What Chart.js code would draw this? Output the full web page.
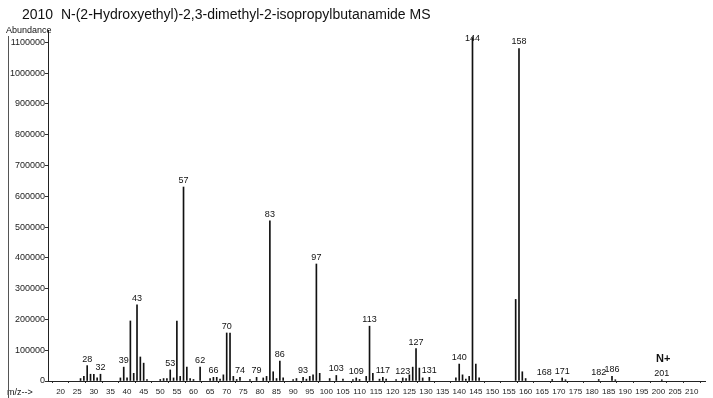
<!DOCTYPE html>
<html>
<head>
<meta charset="utf-8">
<script src="https://cdn.jsdelivr.net/npm/chart.js@4"></script>
<style>
  html, body { margin: 0; padding: 0; background: #fff; }
</style>
</head>
<body>
<canvas id="ms" width="713" height="398"></canvas>
<script>
// spectrum
const titleText = "2010  N-(2-Hydroxyethyl)-2,3-dimethyl-2-isopropylbutanamide MS";

const mzValues = [26, 27, 28, 29, 30, 31, 32, 38, 39, 40, 41, 42, 43, 44, 45, 46,
  50, 51, 52, 53, 54, 55, 56, 57, 58, 59, 60, 62, 65, 66, 67, 68, 69, 70, 71, 72,
  73, 74, 77, 79, 81, 82, 83, 84, 85, 86, 87, 90, 91, 93, 94, 95, 96, 97, 98,
  101, 103, 105, 108, 109, 110, 112, 113, 114, 116, 117, 118, 121, 123, 124,
  125, 126, 127, 128, 129, 131, 139, 140, 141, 142, 143, 144, 145, 146, 157,
  158, 159, 160, 168, 171, 172, 182, 186, 187, 201];

const abundances = [8000, 15000, 50000, 22000, 22000, 10000, 22000, 10000, 45000,
  10000, 195000, 25000, 247000, 78000, 58000, 5000,
  5000, 8000, 8000, 36000, 10000, 195000, 15000, 630000, 45000, 8000, 5000,
  45000, 8000, 12000, 12000, 6000, 20000, 156000, 156000, 15000,
  5000, 12000, 5000, 12000, 10000, 15000, 520000, 30000, 8000, 65000, 10000,
  5000, 8000, 12000, 6000, 15000, 20000, 380000, 25000,
  8000, 18000, 6000, 5000, 10000, 5000, 15000, 178000, 25000, 6000, 12000,
  6000, 5000, 10000, 8000,
  20000, 45000, 105000, 42000, 10000, 12000, 10000, 55000, 20000, 6000, 15000,
  1115000, 55000, 10000, 265000,
  1080000, 30000, 8000, 5000, 10000, 4000, 5000, 15000, 4000, 4000];

const labeledPeaks = [28, 32, 39, 43, 53, 57, 62, 66, 70, 74, 79, 83, 86, 93, 97,
  103, 109, 113, 117, 123, 127, 131, 140, 144, 158, 168, 171, 182, 186, 201];

const yTicks = [0, 100000, 200000, 300000, 400000, 500000, 600000, 700000,
  800000, 900000, 1000000, 1100000];

const xTicks = [20, 25, 30, 35, 40, 45, 50, 55, 60, 65, 70, 75, 80, 85, 90, 95,
  100, 105, 110, 115, 120, 125, 130, 135, 140, 145, 150, 155, 160, 165, 170,
  175, 180, 185, 190, 195, 200, 205, 210];

const fontName = "'Liberation Sans', Arial, sans-serif";

const extraText = {
  id: "extraText",
  afterDraw(chart) {
    const { ctx, scales: { x, y } } = chart;
    ctx.save();
    ctx.fillStyle = "#111";

    // title
    ctx.font = "14px " + fontName;
    ctx.textAlign = "left";
    ctx.textBaseline = "alphabetic";
    ctx.fillText(titleText, 22, 19);

    ctx.font = "9px " + fontName;
    ctx.fillText("Abundance", 6, 33);
    ctx.fillText("m/z-->", 7, 395);

    ctx.font = "bold 11px " + fontName;
    ctx.fillText("N+", 656, 362);

    // left frame line of the scan
    ctx.strokeStyle = "#555";
    ctx.lineWidth = 1;
    ctx.beginPath();
    ctx.moveTo(8.5, 36);
    ctx.lineTo(8.5, 398);
    ctx.stroke();

    // peak labels (168 nudged left so it does not run into 171)
    ctx.font = "9px " + fontName;
    ctx.textAlign = "center";
    ctx.textBaseline = "bottom";
    labeledPeaks.forEach(m => {
      const i = mzValues.indexOf(m);
      const px = x.getPixelForValue(m) - (m === 168 ? 8 : 0);
      const py = Math.max(y.getPixelForValue(abundances[i]) - 2, 43);
      ctx.fillText(String(m), px, py);
    });
    ctx.restore();
  }
};

const ctx = document.getElementById("ms").getContext("2d");

new Chart(ctx, {
  type: "bar",
  data: {
    datasets: [{
      data: mzValues.map((m, i) => ({ x: m, y: abundances[i] })),
      backgroundColor: "#111",
      barThickness: 1,
      borderWidth: 0
    }]
  },
  options: {
    responsive: false,
    animation: false,
    layout: { padding: { top: 30, right: 8, left: 0, bottom: 0 } },
    plugins: {
      legend: { display: false },
      tooltip: { enabled: false }
    },
    scales: {
      x: {
        type: "linear",
        offset: false,
        min: 16.2,
        max: 214,
        grid: { drawOnChartArea: false, tickLength: 2, color: "#333" },
        border: { color: "#222" },
        ticks: {
          autoSkip: false,
          maxRotation: 0,
          padding: 4,
          color: "#222",
          font: { size: 8, family: fontName },
          callback: v => String(v)
        },
        afterBuildTicks(scale) { scale.ticks = xTicks.map(v => ({ value: v })); },
        afterFit(scale) { scale.height = 17; }
      },
      y: {
        min: 0,
        max: 1140000,
        grid: { drawOnChartArea: false, tickLength: 3, color: "#333" },
        border: { color: "#222" },
        ticks: {
          autoSkip: false,
          padding: 0,
          color: "#222",
          font: { size: 9, family: fontName },
          callback: v => String(v)
        },
        afterBuildTicks(scale) { scale.ticks = yTicks.map(v => ({ value: v })); },
        afterFit(scale) { scale.width = 48; }
      }
    }
  },
  plugins: [extraText]
});
</script>
</body>
</html>
